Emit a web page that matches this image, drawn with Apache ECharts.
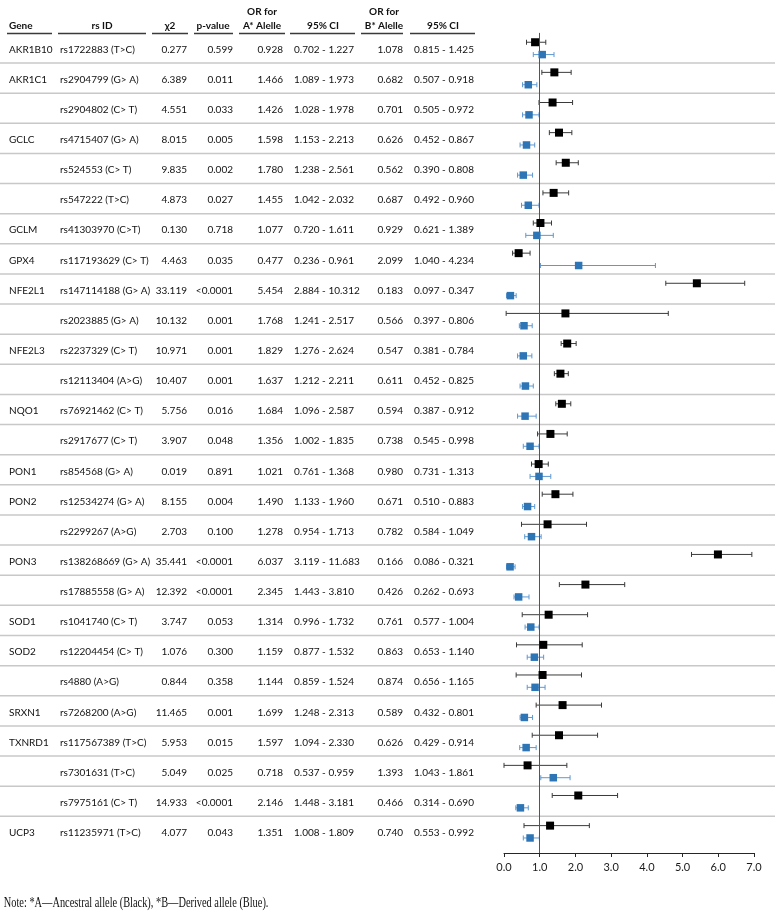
<!DOCTYPE html>
<html>
<head>
<meta charset="utf-8">
<script src="https://cdn.jsdelivr.net/npm/echarts@6/dist/echarts.min.js"></script>
<style>
html,body{margin:0;padding:0;background:#fff;}
#chart{width:782px;height:919px;}
</style>
</head>
<body>
<div id="chart"></div>
<script>
// ---- Table data ----
const genes = ['AKR1B10','AKR1C1','','GCLC','','','GCLM','GPX4','NFE2L1','','NFE2L3','','NQO1','','PON1','PON2','','PON3','','SOD1','SOD2','','SRXN1','TXNRD1','','','UCP3'];
const rsIds = ['rs1722883 (T>C)','rs2904799 (G> A)','rs2904802 (C> T)','rs4715407 (G> A)','rs524553 (C> T)','rs547222 (T>C)','rs41303970 (C>T)','rs117193629 (C> T)','rs147114188 (G> A)','rs2023885 (G> A)','rs2237329 (C> T)','rs12113404 (A>G)','rs76921462 (C> T)','rs2917677 (C> T)','rs854568 (G> A)','rs12534274 (G> A)','rs2299267 (A>G)','rs138268669 (G> A)','rs17885558 (G> A)','rs1041740 (C> T)','rs12204454 (C> T)','rs4880 (A>G)','rs7268200 (A>G)','rs117567389 (T>C)','rs7301631 (T>C)','rs7975161 (C> T)','rs11235971 (T>C)'];
const chi2 = ['0.277','6.389','4.551','8.015','9.835','4.873','0.130','4.463','33.119','10.132','10.971','10.407','5.756','3.907','0.019','8.155','2.703','35.441','12.392','3.747','1.076','0.844','11.465','5.953','5.049','14.933','4.077'];
const pValues = ['0.599','0.011','0.033','0.005','0.002','0.027','0.718','0.035','<0.0001','0.001','0.001','0.001','0.016','0.048','0.891','0.004','0.100','<0.0001','<0.0001','0.053','0.300','0.358','0.001','0.015','0.025','<0.0001','0.043'];
const orA = ['0.928','1.466','1.426','1.598','1.780','1.455','1.077','0.477','5.454','1.768','1.829','1.637','1.684','1.356','1.021','1.490','1.278','6.037','2.345','1.314','1.159','1.144','1.699','1.597','0.718','2.146','1.351'];
const ciA = ['0.702 - 1.227','1.089 - 1.973','1.028 - 1.978','1.153 - 2.213','1.238 - 2.561','1.042 - 2.032','0.720 - 1.611','0.236 - 0.961','2.884 - 10.312','1.241 - 2.517','1.276 - 2.624','1.212 - 2.211','1.096 - 2.587','1.002 - 1.835','0.761 - 1.368','1.133 - 1.960','0.954 - 1.713','3.119 - 11.683','1.443 - 3.810','0.996 - 1.732','0.877 - 1.532','0.859 - 1.524','1.248 - 2.313','1.094 - 2.330','0.537 - 0.959','1.448 - 3.181','1.008 - 1.809'];
const orB = ['1.078','0.682','0.701','0.626','0.562','0.687','0.929','2.099','0.183','0.566','0.547','0.611','0.594','0.738','0.980','0.671','0.782','0.166','0.426','0.761','0.863','0.874','0.589','0.626','1.393','0.466','0.740'];
const ciB = ['0.815 - 1.425','0.507 - 0.918','0.505 - 0.972','0.452 - 0.867','0.390 - 0.808','0.492 - 0.960','0.621 - 1.389','1.040 - 4.234','0.097 - 0.347','0.397 - 0.806','0.381 - 0.784','0.452 - 0.825','0.387 - 0.912','0.545 - 0.998','0.731 - 1.313','0.510 - 0.883','0.584 - 1.049','0.086 - 0.321','0.262 - 0.693','0.577 - 1.004','0.653 - 1.140','0.656 - 1.165','0.432 - 0.801','0.429 - 0.914','1.043 - 1.861','0.314 - 0.690','0.553 - 0.992'];

// ---- Plotted values ----
const blackOR = [0.87,1.41,1.36,1.54,1.73,1.39,1.02,0.41,5.40,1.72,1.77,1.58,1.62,1.30,0.97,1.44,1.22,5.99,2.28,1.25,1.10,1.08,1.64,1.54,0.66,2.08,1.29];
const blackLo = [0.63,1.06,0.98,1.27,1.46,1.09,0.82,0.24,4.53,0.06,1.60,1.41,1.45,0.94,0.77,1.07,0.49,5.25,1.55,0.51,0.35,0.34,0.90,0.79,0.00,1.35,0.56];
const blackHi = [1.17,1.88,1.92,1.90,2.08,1.81,1.33,0.73,6.74,4.60,2.02,1.80,1.87,1.77,1.24,1.93,2.31,6.94,3.38,2.34,2.19,2.17,2.73,2.62,1.76,3.18,2.39];
const blueOR  = [1.07,0.68,0.70,0.63,0.54,0.68,0.92,2.09,0.18,0.56,0.54,0.60,0.59,0.73,0.98,0.66,0.77,0.17,0.41,0.75,0.85,0.87,0.57,0.62,1.38,0.46,0.73];
const blueLo  = [0.82,0.52,0.52,0.45,0.38,0.49,0.61,1.02,0.07,0.43,0.38,0.45,0.38,0.54,0.73,0.52,0.58,0.07,0.28,0.59,0.65,0.65,0.45,0.44,1.03,0.33,0.54];
const blueHi  = [1.40,0.92,0.98,0.86,0.80,0.98,1.38,4.24,0.34,0.79,0.78,0.82,0.90,0.98,1.31,0.86,1.04,0.31,0.70,0.98,1.11,1.15,0.80,0.90,1.85,0.68,0.99];

const xTicks = ['0.0','1.0','2.0','3.0','4.0','5.0','6.0','7.0'];

// ---- layout ----
const nRows = genes.length;
const gridTop = 32.9, rowH = 30.13, axisY = 853;
const yMax = (axisY - gridTop) / rowH;
const FONT = 'Lato';
const FS = 10;

const blackBars = blackOR.map((v,i)=>[blackLo[i], blackHi[i], i + 0.31]);
const blueBars = blueOR.map((v,i)=>[blueLo[i], blueHi[i], i + 0.72]);
const blackPts = blackOR.map((v,i)=>[v, i + 0.31]);
const bluePts = blueOR.map((v,i)=>[v, i + 0.72]);

function errRender(color){
  return function(params, api){
    const lo = api.coord([api.value(0), api.value(2)]);
    const hi = api.coord([api.value(1), api.value(2)]);
    const c = 2.5;
    const st = {stroke: color, lineWidth: 1};
    return {type:'group', children:[
      {type:'line', shape:{x1:lo[0],y1:lo[1],x2:hi[0],y2:hi[1]}, style:st},
      {type:'line', shape:{x1:lo[0],y1:lo[1]-c,x2:lo[0],y2:lo[1]+c}, style:st},
      {type:'line', shape:{x1:hi[0],y1:hi[1]-c,x2:hi[0],y2:hi[1]+c}, style:st}
    ]};
  };
}

const chart = echarts.init(document.getElementById('chart'), null, {renderer:'canvas'});
chart.setOption({
  animation:false,
  backgroundColor:'#fff',
  grid:{left:504, right:28, top:gridTop, height: axisY - gridTop},
  xAxis:{type:'value', min:0, max:7, interval:1, position:'bottom',
    axisLine:{show:true, onZero:false, lineStyle:{color:'#262626', width:1}},
    axisTick:{show:true, length:4, lineStyle:{color:'#262626'}},
    axisLabel:{color:'#1a1a1a', fontFamily:FONT, fontSize:11, margin:9, formatter:(v)=>xTicks[Math.round(v)]},
    splitLine:{show:false}},
  yAxis:{type:'value', min:0, max:yMax, inverse:true, show:false},
  series:[
    {type:'custom', renderItem:errRender('#3a3a3a'), data:blackBars, encode:{x:[0,1], y:2}, z:3},
    {type:'custom', renderItem:errRender('#5f97cf'), data:blueBars, encode:{x:[0,1], y:2}, z:3},
    {type:'scatter', data:blackPts, symbol:'rect', symbolSize:8, itemStyle:{color:'#000', opacity:1}, z:5,
      markLine:{silent:true, symbol:'none', label:{show:false}, lineStyle:{color:'#555', width:1, type:'solid'}, data:[{xAxis:1}]}},
    {type:'scatter', data:bluePts, symbol:'rect', symbolSize:7.5, itemStyle:{color:'#2e75b6', opacity:1}, z:5}
  ]
});

// ---- table graphics ----
const g = [];
function txt(x, y, s, align, bold){
  g.push({type:'text', x:x, y:y, silent:true, style:{text:s, fill:'#111', font:(bold?'bold ':'')+FS+'px '+FONT, textAlign:align, textVerticalAlign:'middle'}});
}
function hline(x1, x2, y, color, w){
  g.push({type:'line', silent:true, shape:{x1:x1,y1:y,x2:x2,y2:y}, style:{stroke:color, lineWidth:w}});
}
// headers
txt(9, 26, 'Gene', 'left', true);
txt(102, 26, 'rs ID', 'center', true);
txt(170, 26, 'χ2', 'center', true);
txt(213, 26, 'p-value', 'center', true);
txt(262, 12, 'OR for', 'center', true);
txt(262, 26, 'A* Alelle', 'center', true);
txt(323, 26, '95% CI', 'center', true);
txt(384, 12, 'OR for', 'center', true);
txt(384, 26, 'B* Alelle', 'center', true);
txt(443, 26, '95% CI', 'center', true);
[[7,52],[58,146],[152,188],[194,233],[239,285],[290,355],[361,403],[410,475]].forEach(p=>hline(p[0],p[1],33.5,'#3a3a3a',1.3));

for(let i=0;i<nRows;i++){
  const y = chart.convertToPixel({yAxisIndex:0}, i + 0.55);
  txt(9, y, genes[i], 'left');
  txt(60, y, rsIds[i], 'left');
  txt(187, y, chi2[i], 'right');
  txt(233, y, pValues[i], 'right');
  txt(283, y, orA[i], 'right');
  txt(294, y, ciA[i], 'left');
  txt(403, y, orB[i], 'right');
  txt(414, y, ciB[i], 'left');
  if(i < nRows-1){
    const ys = chart.convertToPixel({yAxisIndex:0}, i + 1);
    hline(0, 775, ys, '#c8c8c8', 1.5);
  }
}
g.push({type:'text', x:3, y:903, scaleX:0.74, originX:3, originY:903, silent:true, style:{text:'Note: *A\u2014Ancestral allele (Black), *B\u2014Derived allele (Blue).', fill:'#111', font:'14px "Liberation Serif"', textAlign:'left', textVerticalAlign:'middle'}});
chart.setOption({graphic:{elements:g}});
</script>
</body>
</html>
